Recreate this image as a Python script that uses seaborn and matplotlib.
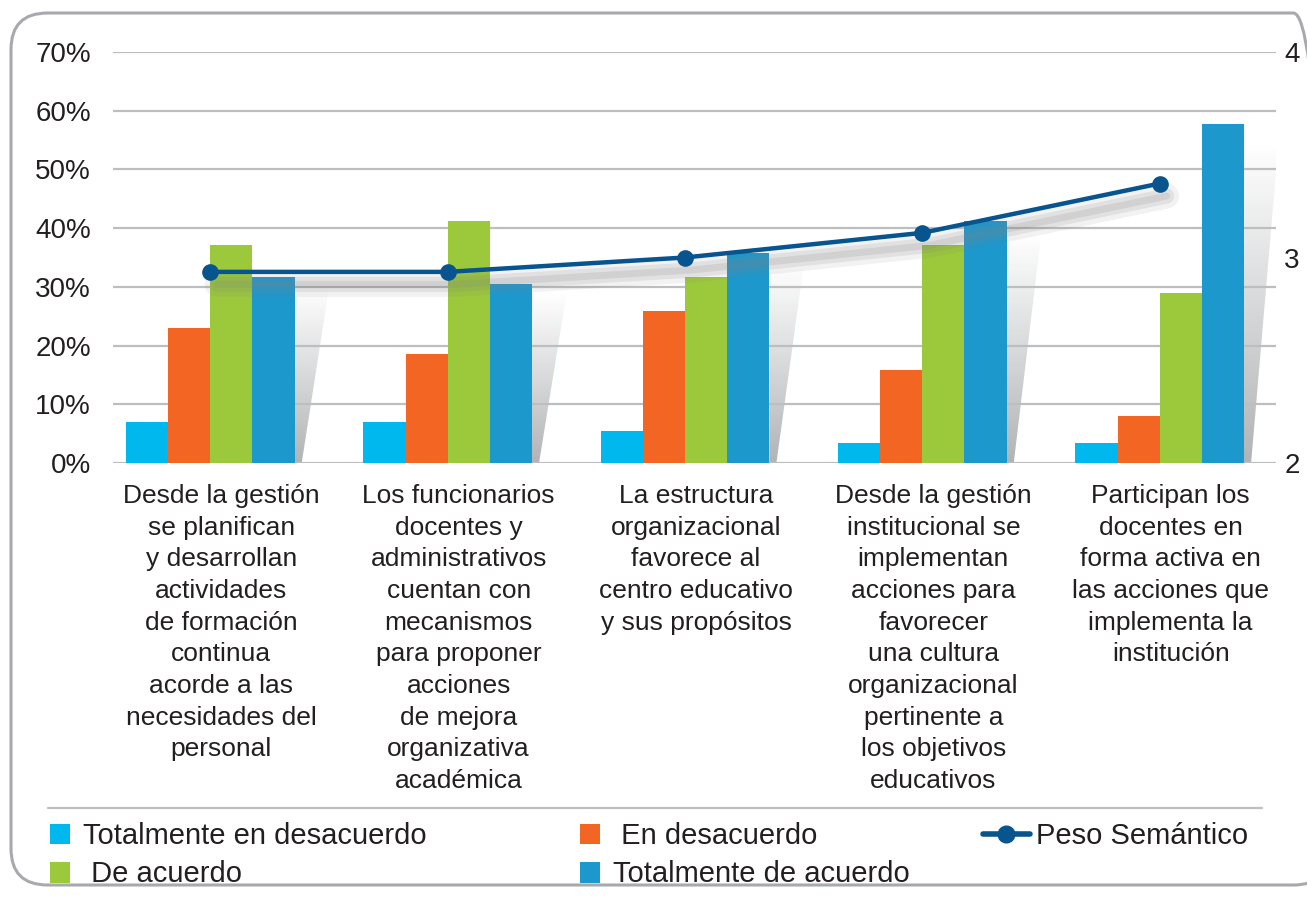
import numpy as np
import pandas as pd
import seaborn as sns
import matplotlib.pyplot as plt
import matplotlib.patheffects as pe
import matplotlib.transforms as mtransforms
from matplotlib.patches import Polygon, FancyBboxPatch, Patch
from matplotlib.lines import Line2D
from matplotlib.colors import LinearSegmentedColormap

# ---- data ----
categories = [
    "Desde la gestión\nse planifican\ny desarrollan\nactividades\nde formación\ncontinua\nacorde a las\nnecesidades del\npersonal",
    "Los funcionarios\ndocentes y\nadministrativos\ncuentan con\nmecanismos\npara proponer\nacciones\nde mejora\norganizativa\nacadémica",
    "La estructura\norganizacional\nfavorece al\ncentro educativo\ny sus propósitos",
    "Desde la gestión\ninstitucional se\nimplementan\nacciones para\nfavorecer\nuna cultura\norganizacional\npertinente a\nlos objetivos\neducativos",
    "Participan los\ndocentes en\nforma activa en\nlas acciones que\nimplementa la\ninstitución",
]
series = ["Totalmente en desacuerdo", "En desacuerdo", "De acuerdo", "Totalmente de acuerdo"]
tot_desacuerdo = [7.0, 7.0, 5.5, 3.4, 3.4]
en_desacuerdo = [23.0, 18.6, 25.9, 15.8, 8.0]
de_acuerdo = [37.1, 41.2, 31.7, 37.1, 29.0]
tot_acuerdo = [31.7, 30.5, 35.8, 41.2, 57.7]
peso_semantico = [2.93, 2.93, 3.00, 3.12, 3.36]
y_ticks = [0, 10, 20, 30, 40, 50, 60, 70]
y2_ticks = [2, 3, 4]

colors = ["#00B8EE", "#F26522", "#9BC93B", "#1C98CD"]
line_color = "#07548F"
text_color = "#231F20"

df = pd.DataFrame({
    "cat": np.repeat(np.arange(len(categories)), 4),
    "serie": series * len(categories),
    "valor": np.ravel(np.column_stack([tot_desacuerdo, en_desacuerdo, de_acuerdo, tot_acuerdo])),
})

sns.set_theme(style="white")
plt.rcParams["font.family"] = ["Liberation Sans", "DejaVu Sans"]
plt.rcParams["text.color"] = text_color

W, H = 1307, 899
fig = plt.figure(figsize=(W / 100, H / 100), dpi=100)
ax = fig.add_axes([113 / W, 1 - 463 / H, (1276 - 113) / W, (463 - 52) / H])

bar_w = 0.71
sns.barplot(data=df, x="cat", y="valor", hue="serie", hue_order=series,
            palette=colors, width=bar_w, gap=0, saturation=1, legend=False,
            ax=ax, zorder=2, linewidth=0)

ax.set_xlim(-0.41, 4.49)
ax.set_ylim(0, 70)
ax.set_yticks(y_ticks)
ax.set_yticklabels([f"{t}%" for t in y_ticks])
ax.set_xticks(range(len(categories)))
ax.set_xticklabels(categories, fontsize=19, linespacing=1.405, color=text_color)
ax.tick_params(axis="x", length=0, pad=15)
ax.tick_params(axis="y", length=0, pad=16, labelsize=20, labelcolor=text_color)
# labels sit slightly right of the group centres in the original
shift = mtransforms.ScaledTranslation(0.11, 0, fig.dpi_scale_trans)
for lbl in ax.get_xticklabels():
    lbl.set_transform(lbl.get_transform() + shift)
ax.set_xlabel("")
ax.set_ylabel("")
ax.grid(axis="y", color="#BDBEC0", linewidth=1.6)
ax.set_axisbelow(True)
for s in ax.spines.values():
    s.set_visible(False)

# gradient shadows behind the last bar of each group
cmap = LinearSegmentedColormap.from_list("sh", ["#A4A6A9", "#FFFFFF"])
grad = np.linspace(0, 1, 256).reshape(-1, 1)
for i, v in enumerate(tot_acuerdo):
    xr = i + bar_w / 2
    top = v * 0.94
    poly = Polygon([(xr, 0), (xr + 0.03, 0), (xr + 0.145, top), (xr, top)],
                   closed=True, transform=ax.transData, facecolor="none", edgecolor="none")
    ax.add_patch(poly)
    im = ax.imshow(grad, cmap=cmap, origin="lower", aspect="auto",
                   extent=(xr, xr + 0.15, 0, top), zorder=0.3, alpha=0.85)
    im.set_clip_path(poly)
ax.set_xlim(-0.41, 4.49)
ax.set_ylim(0, 70)

# semantic weight line on the right axis
ax2 = ax.twinx()
x_pos = np.arange(len(categories))
shadow = [pe.SimpleLineShadow(offset=(5, -9), shadow_color="#808080", alpha=0.10, linewidth=18),
          pe.SimpleLineShadow(offset=(5, -9), shadow_color="#808080", alpha=0.14, linewidth=11),
          pe.SimpleLineShadow(offset=(5, -9), shadow_color="#808080", alpha=0.16, linewidth=5)]
ax2.plot(x_pos, peso_semantico, color="none", linewidth=3, path_effects=shadow,
         solid_capstyle="round", zorder=1)
sns.lineplot(x=x_pos, y=peso_semantico, ax=ax2, color=line_color,
             linewidth=3.2, marker="o", markersize=12, markeredgewidth=0, zorder=3)
ax2.set_ylim(2, 4)
ax2.set_yticks(y2_ticks)
ax2.tick_params(axis="y", length=0, pad=6, labelsize=20, labelcolor=text_color)
ax2.set_xlim(-0.41, 4.49)
for s in ax2.spines.values():
    s.set_visible(False)
ax2.grid(False)

# separator line above legend
fig.add_artist(Line2D([48 / W, 1262 / W], [1 - 808 / H, 1 - 808 / H],
                      color="#BDBEC0", linewidth=1.6))

# legend, three columns
def sq(c):
    return Patch(facecolor=c, edgecolor="none")

leg_kw = dict(frameon=False, fontsize=21, loc="upper left", borderpad=0,
              borderaxespad=0, labelspacing=0.36, handletextpad=0.42)
top_y = 1 - 822 / H
fig.legend([sq(colors[0]), sq(colors[2])], [series[0], " " + series[2]],
           bbox_to_anchor=(50 / W, top_y), handlelength=0.7, handleheight=0.7, **leg_kw)
fig.legend([sq(colors[1]), sq(colors[3])], [" " + series[1], series[3]],
           bbox_to_anchor=(580 / W, top_y), handlelength=0.7, handleheight=0.7, **leg_kw)
leg_kw["handletextpad"] = 0.22
fig.legend([Line2D([], [], color=line_color, linewidth=4, marker="o", markersize=12)],
           ["Peso Semántico"], bbox_to_anchor=(983 / W, top_y),
           handlelength=1.6, **leg_kw)

# rounded outer frame
fig.add_artist(FancyBboxPatch((11 / W, 14 / H), (1330 - 11) / W, (886 - 14) / H,
                              boxstyle="round,pad=0,rounding_size=0.028",
                              transform=fig.transFigure, facecolor="none",
                              edgecolor="#A7A9AC", linewidth=2.2, mutation_aspect=W / H))

fig.savefig("out.png", dpi=100)
